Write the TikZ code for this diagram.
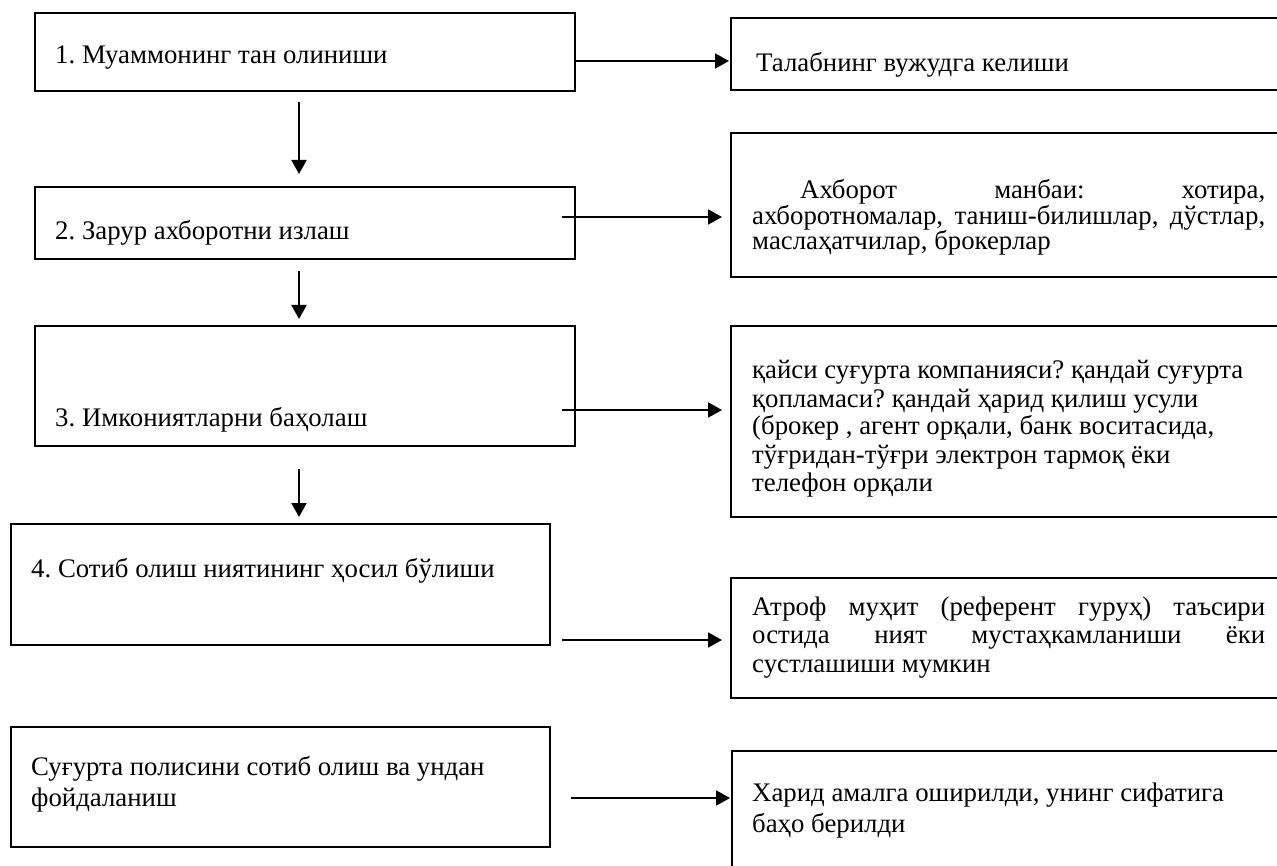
\documentclass[tikz,border=0pt]{standalone}
\usepackage{fontspec}
\setmainfont{Liberation Serif}
\usetikzlibrary{arrows.meta,calc}
\frenchspacing
\begin{document}
\begin{tikzpicture}[x=1pt,y=-1pt,
  box/.style={draw,line width=2pt,inner sep=0pt,outer sep=0pt,anchor=north west},
  arr/.style={line width=2pt,-{Triangle[length=14pt,width=15pt]}},
  txt/.style={anchor=base west,inner sep=0pt,font=\fontsize{26.8}{28.5}\selectfont}
]
\useasboundingbox (0,0) rectangle (1277,866);
\clip (0,0) rectangle (1277,866);
% left boxes
\node[box,minimum width=540pt,minimum height=78pt]  (b1) at (35,13)  {};
\node[box,minimum width=540pt,minimum height=72pt]  (b2) at (35,187) {};
\node[box,minimum width=540pt,minimum height=120pt] (b3) at (35,326) {};
\node[box,minimum width=539pt,minimum height=121pt] (b4) at (11,524) {};
\node[box,minimum width=539pt,minimum height=120pt] (b5) at (11,727) {};
% right boxes
\node[box,minimum width=600pt,minimum height=72pt]  (r1) at (731,18)  {};
\node[box,minimum width=600pt,minimum height=144pt] (r2) at (731,133) {};
\node[box,minimum width=600pt,minimum height=191pt] (r3) at (731,326) {};
\node[box,minimum width=600pt,minimum height=120pt] (r4) at (731,578) {};
\node[box,minimum width=600pt,minimum height=200pt] (r5) at (732,751) {};
% left texts
\node[txt] (tb1) at (55,64)  {1. Муаммонинг тан олиниши};
\node[txt] (tb2) at (55,240) {2. Зарур ахборотни излаш};
\node[txt] (tb3) at (55,427) {3. Имкониятларни баҳолаш};
\node[txt] (tb4) at (31,577) {4. Сотиб олиш ниятининг ҳосил бўлиши};
\node[txt] (tb5a) at (31,775) {Суғурта полисини сотиб олиш ва ундан};
\node[txt] (tb5b) at (31,806) {фойдаланиш};
% right texts
\node[txt] (tr1) at (756,72) {Талабнинг вужудга келиши};
\node[txt] (tr2a) at (752,199) {\hbox to 513pt{\hspace*{48pt}Ахборот\hfill манбаи:\hfill хотира,}};
\node[txt] (tr2b) at (752,225) {\hbox to 513pt{ахборотномалар,\hfill таниш-билишлар,\hfill дўстлар,}};
\node[txt] (tr2c) at (752,250) {маслаҳатчилар, брокерлар};
\node[txt] (tr3a) at (752,379) {қайси суғурта компанияси? қандай суғурта};
\node[txt] (tr3b) at (752,407) {қопламаси? қандай ҳарид қилиш усули};
\node[txt] (tr3c) at (752,435) {(брокер , агент орқали, банк воситасида,};
\node[txt] (tr3d) at (752,463) {тўғридан-тўғри электрон тармоқ ёки};
\node[txt] (tr3e) at (752,491) {телефон орқали};
\node[txt] (tr4a) at (752,615) {\hbox to 513pt{Атроф\hfill муҳит\hfill (референт\hfill гуруҳ)\hfill таъсири}};
\node[txt] (tr4b) at (752,643) {\hbox to 513pt{остида\hfill ният\hfill мустаҳкамланиши\hfill ёки}};
\node[txt] (tr4c) at (752,672) {сустлашиши мумкин};
\node[txt] (tr5a) at (752,801) {Харид амалга оширилди, унинг сифатига};
\node[txt] (tr5b) at (752,832) {баҳо берилди};
% horizontal connector starts
\coordinate (s1) at (575,61);
\coordinate (s2) at (562,217);
\coordinate (s3) at (562,410);
\coordinate (s4) at (562,640);
\coordinate (s5) at (571,798);
\draw[arr,shorten >=2pt] (s1) -- (s1 -| r1.west);
\draw[arr,shorten >=9pt] (s2) -- (s2 -| r2.west);
\draw[arr,shorten >=9pt] (s3) -- (s3 -| r3.west);
\draw[arr,shorten >=9pt] (s4) -- (s4 -| r4.west);
\draw[arr,shorten >=2pt] (s5) -- (s5 -| r5.west);
% vertical connectors
\draw[arr] ($(b1.south)+(-6,11)$) -- ($(b2.north)+(-6,-13)$);
\draw[arr] ($(b2.south)+(-6,12)$) -- ($(b3.north)+(-6,-7)$);
\draw[arr] ($(b3.south)+(-6,23)$) -- ($(b4.north -| b3.south)+(-6,-7)$);
\end{tikzpicture}
\end{document}
